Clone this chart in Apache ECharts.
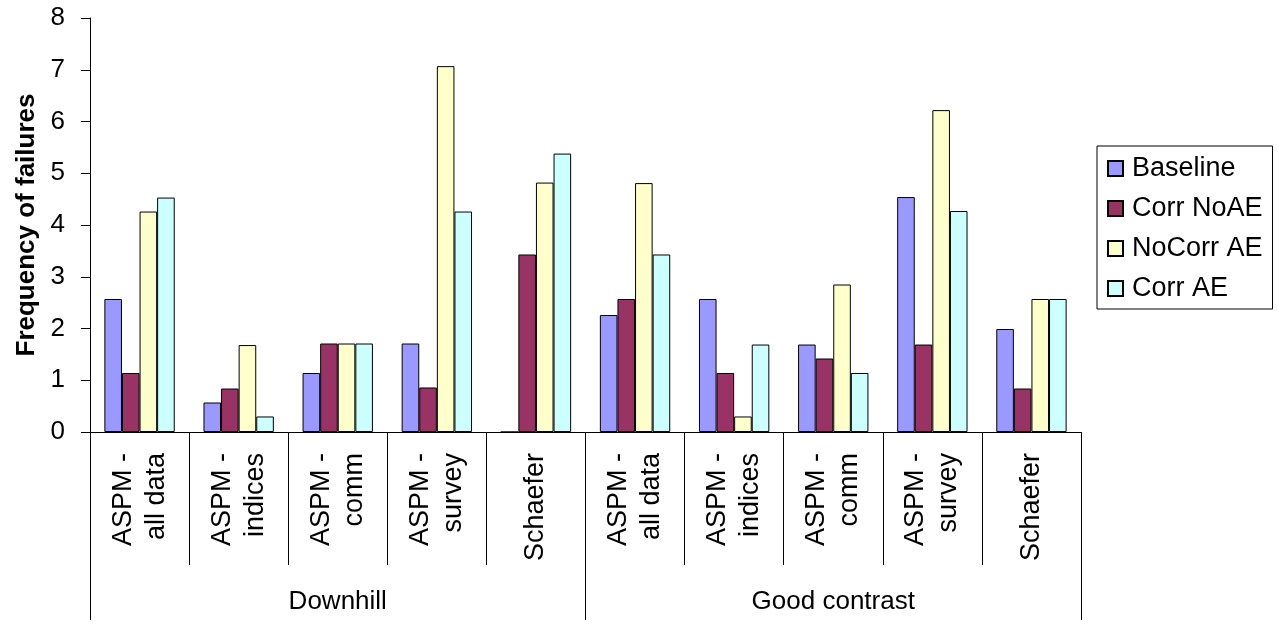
<!DOCTYPE html>
<html>
<head>
<meta charset="utf-8">
<script src="https://cdn.jsdelivr.net/npm/echarts@6/dist/echarts.min.js"></script>
<style>
html,body{margin:0;padding:0;background:#fff;}
#chart{width:1278px;height:624px;}
</style>
</head>
<body>
<div id="chart"></div>
<script>
const categories = [
  'ASPM -\nall data', 'ASPM -\nindices', 'ASPM -\ncomm', 'ASPM -\nsurvey', 'Schaefer',
  'ASPM -\nall data', 'ASPM -\nindices', 'ASPM -\ncomm', 'ASPM -\nsurvey', 'Schaefer'
];
const groups = ['Downhill', 'Good contrast'];
const seriesNames = ['Baseline', 'Corr NoAE', 'NoCorr AE', 'Corr AE'];
const baseline = [2.57, 0.57, 1.14, 1.71, 0, 2.26, 2.57, 1.69, 4.54, 1.99];
const corrNoAE = [1.14, 0.84, 1.71, 0.86, 3.43, 2.57, 1.14, 1.42, 1.69, 0.84];
const noCorrAE = [4.26, 1.68, 1.71, 7.07, 4.82, 4.81, 0.30, 2.85, 6.22, 2.57];
const corrAE = [4.53, 0.30, 1.71, 4.26, 5.38, 3.43, 1.69, 1.14, 4.27, 2.57];
const yTicks = [0, 1, 2, 3, 4, 5, 6, 7, 8];

const colors = ['#9999FF', '#993366', '#FFFFCC', '#CCFFFF'];
const values = [baseline, corrNoAE, noCorrAE, corrAE];
const font = 'Arial, "Liberation Sans", sans-serif';

const chart = echarts.init(document.getElementById('chart'));
chart.setOption({
  backgroundColor: '#ffffff',
  animation: false,
  textStyle: { fontFamily: font, color: '#000' },
  grid: { left: 90, right: 197, top: 18, bottom: 192, containLabel: false },
  legend: {
    orient: 'vertical',
    left: 1097,
    top: 146,
    padding: [9, 10, 7, 10],
    itemGap: 13,
    itemWidth: 15,
    itemHeight: 15,
    borderColor: '#000',
    borderWidth: 1,
    icon: 'rect',
    data: seriesNames,
    textStyle: { fontFamily: font, fontSize: 27, color: '#000', lineHeight: 27, padding: [0, 0, 0, 4] }
  },
  xAxis: [
    {
      type: 'category',
      data: categories,
      position: 'bottom',
      axisLine: { show: true, lineStyle: { color: '#000', width: 1 } },
      axisTick: { show: true, length: 133, interval: 0, lineStyle: { color: '#000' } },
      axisLabel: {
        interval: 0, rotate: 90, margin: 21, fontSize: 27, lineHeight: 33,
        color: '#000', fontFamily: font
      },
      splitLine: { show: false }
    },
    {
      type: 'category',
      data: groups,
      position: 'bottom',
      axisLine: { show: false },
      axisTick: { show: true, length: 188, interval: 0, lineStyle: { color: '#000' } },
      axisLabel: { interval: 0, margin: 157, fontSize: 26, color: '#000', fontFamily: font },
      splitLine: { show: false }
    }
  ],
  yAxis: {
    type: 'value',
    min: yTicks[0],
    max: yTicks[yTicks.length - 1],
    interval: 1,
    name: 'Frequency of failures',
    nameLocation: 'middle',
    nameGap: 48,
    nameTextStyle: { fontSize: 26, fontWeight: 'bold', color: '#000', fontFamily: font },
    axisLine: { show: true, lineStyle: { color: '#000', width: 1 } },
    axisTick: { show: true, length: 9, inside: false, lineStyle: { color: '#000' } },
    axisLabel: { margin: 25, fontSize: 26, color: '#000', fontFamily: font },
    splitLine: { show: false }
  },
  series: seriesNames.map((name, i) => ({
    name: name,
    type: 'bar',
    xAxisIndex: 0,
    data: values[i],
    barGap: '0%',
    barCategoryGap: '29%',
    itemStyle: { color: colors[i], borderColor: '#000', borderWidth: 1 }
  }))
});
</script>
</body>
</html>
